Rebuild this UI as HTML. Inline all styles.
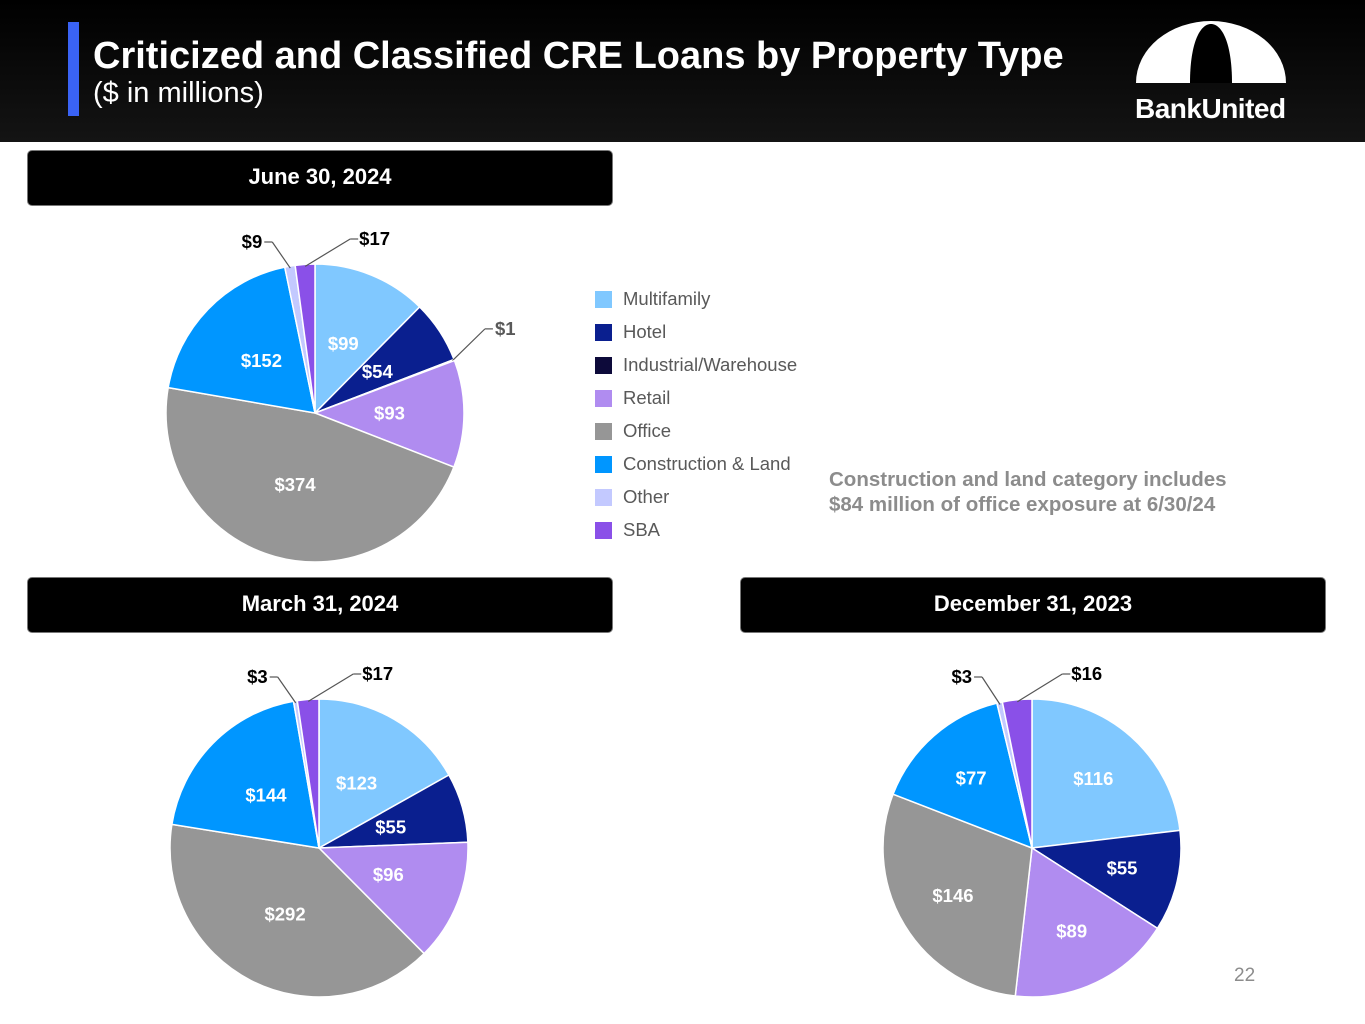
<!DOCTYPE html>
<html><head><meta charset="utf-8"><style>
body{margin:0;width:1365px;height:1024px;background:#fff;font-family:"Liberation Sans",Arial,sans-serif;position:relative;overflow:hidden}
.hdr{position:absolute;left:0;top:0;width:1365px;height:142px;background:linear-gradient(#000,#141414)}
.bar{position:absolute;left:68px;top:22px;width:11px;height:94px;background:#3a63f5}
.title{position:absolute;left:93px;top:35px;color:#fff;font-weight:bold;font-size:38px}
.sub{position:absolute;left:93px;top:77px;color:#fff;font-size:29px}
.sec{position:absolute;width:584px;height:54px;background:#000;border:1px solid #777;border-radius:5px;color:#fff;font-weight:bold;font-size:22px;text-align:center;line-height:52px}
.leg{position:absolute;left:595px;font-size:18.5px;color:#595959}
.leg span{display:inline-block;width:17px;height:17px;vertical-align:-3px;margin-right:11px}
.note{position:absolute;left:829px;top:467px;color:#8c8c8c;font-weight:bold;font-size:20.5px;line-height:25px}
.pg{position:absolute;left:1234px;top:965px;color:#8c8c8c;font-size:19px}
</style></head><body>
<div class="hdr"></div>
<div class="bar"></div>
<div class="title">Criticized and Classified CRE Loans by Property Type</div>
<div class="sub">($ in millions)</div>
<svg style="position:absolute;left:1130px;top:18px" width="165" height="110">
<path d="M6 65 A75 62 0 0 1 156 65 Z" fill="#fff"/>
<path d="M60 65 C60 25 70 6 81 6 C92 6 102 25 102 65 Z" fill="#000"/>
<text x="5" y="100" fill="#fff" font-weight="bold" font-size="28" font-family="Liberation Sans,sans-serif" letter-spacing="-0.5">BankUnited</text>
</svg>
<div class="sec" style="left:27px;top:150px">June 30, 2024</div>
<div class="sec" style="left:27px;top:577px">March 31, 2024</div>
<div class="sec" style="left:740px;top:577px">December 31, 2023</div>
<div id="legend"></div>
<div class="note">Construction and land category includes<br>$84 million of office exposure at 6/30/24</div>
<div class="pg">22</div>
<svg id="pies" style="position:absolute;left:0;top:0" width="1365" height="1024"></svg>
<script>
const categories=["Multifamily","Hotel","Industrial/Warehouse","Retail","Office","Construction & Land","Other","SBA"];
const colors=["#80c8ff","#0a1f8f","#0d0a3a","#b08cf0","#969696","#0096ff","#c3c9ff","#8a50e8"];
const june2024=[99,54,1,93,374,152,9,17];
const march2024=[123,55,0,96,292,144,3,17];
const dec2023=[116,55,0,89,146,77,3,16];
const NS="http://www.w3.org/2000/svg";
const svg=document.getElementById('pies');
const leg=document.getElementById('legend');
categories.forEach((c,i)=>{
  const d=document.createElement('div');d.className='leg';d.style.top=(288+i*33)+'px';
  
  
  d.innerHTML='<span style="background:'+colors[i]+'"></span>'+c;leg.appendChild(d);
});
function mk(t,a){const e=document.createElementNS(NS,t);for(const k in a)e.setAttribute(k,a[k]);svg.appendChild(e);return e;}
function pt(cx,cy,r,a){return [cx+r*Math.sin(a),cy-r*Math.cos(a)];}
function pie(vals,cx,cy,r,name,lr){
  const tot=vals.reduce((a,b)=>a+b,0);let acc=0;
  vals.forEach((v,i)=>{
    if(v<=0)return;
    const a0=acc/tot*2*Math.PI;acc+=v;const a1=acc/tot*2*Math.PI;
    const p0=pt(cx,cy,r,a0),p1=pt(cx,cy,r,a1);const large=a1-a0>Math.PI?1:0;
    const p=mk('path',{d:`M${cx},${cy}L${p0[0]},${p0[1]}A${r},${r} 0 ${large} 1 ${p1[0]},${p1[1]}Z`,fill:colors[i],stroke:'#fff','stroke-width':1.5});
    
    
    const am=(a0+a1)/2;const frac=v/tot;
    let t;
    if(frac>0.04){
      const q=pt(cx,cy,r*lr,am);
      t=mk('text',{x:q[0],y:q[1]+6,'text-anchor':'middle',fill:'#fff','font-weight':'bold','font-size':18.5});
    }else{
      const e=pt(cx,cy,r-2,am);
      let el,lx,anchor;
      if(i===7){el=[e[0]+45,cy-r-25];lx=el[0]+5;anchor='start';}
      else if(i===6){el=[e[0]-18,cy-r-22];lx=el[0]-6;anchor='end';}
      else{const o=pt(cx,cy,r+20,am);el=[o[0]+12,o[1]-24];lx=el[0]+6;anchor='start';}
      const l=mk('polyline',{points:`${e[0]},${e[1]} ${el[0]},${el[1]}`,fill:'none',stroke:'#555','stroke-width':1.2});
      
      
      const p2=mk('line',{x1:el[0],y1:el[1],x2:anchor==='start'?el[0]+8:el[0]-8,y2:el[1],stroke:'#555','stroke-width':1.2});
      
      
      t=mk('text',{x:anchor==='start'?lx+4:lx-4,y:el[1]+6,'text-anchor':anchor,fill:i===2?'#595959':'#000','font-weight':'bold','font-size':18.5});
    }
    t.textContent='$'+v;
    
    
  });
}
pie(june2024,315,413,149,'june-2024-pie',0.5);
pie(march2024,319,848,149,'march-2024-pie',0.5);
pie(dec2023,1032,848,149,'december-2023-pie',0.62);
</script>
</body></html>
